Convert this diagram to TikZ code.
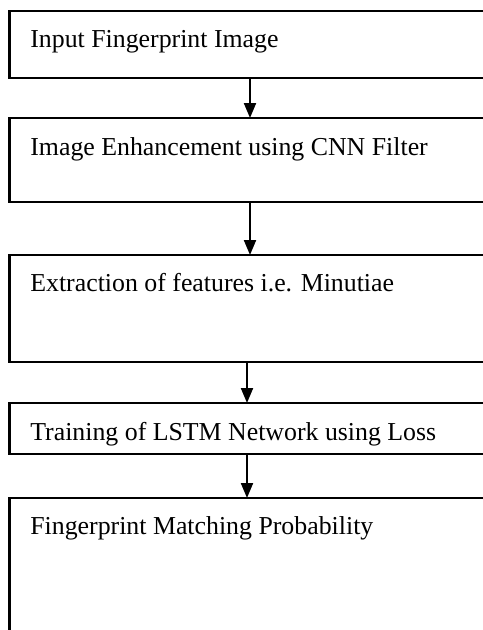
\documentclass[tikz,border=0pt]{standalone}
\usepackage{fontspec}
\setmainfont{Liberation Serif}
\usetikzlibrary{arrows.meta}
\tikzset{
  stage/.style={draw, rectangle, line width=1.2pt, minimum width=9.62cm,
    inner sep=0pt, outer sep=0pt, anchor=north west},
  caption/.style={anchor=base west, inner sep=0pt,
    font=\fontsize{14.7}{18}\selectfont},
  flow/.style={line width=1.2pt, -{Triangle[length=0.3cm,width=0.24cm]}}
}
\begin{document}
\begin{tikzpicture}
            \useasboundingbox (0,0) rectangle (9.66,-12.6);
            \clip (0,0) rectangle (9.66,-12.6);

            % Define the stages
            \node[stage, minimum height=1.34cm] (s1) at (0.19,-0.22) {};
            \node[stage, minimum height=1.68cm] (s2) at (0.19,-2.36) {};
            \node[stage, minimum height=2.14cm] (s3) at (0.19,-5.10) {};
            \node[stage, minimum height=1.02cm] (s4) at (0.19,-8.06) {};
            \node[stage, minimum height=3.50cm] (s5) at (0.19,-9.96) {};

            % Stage texts
            \node[caption] (t1) at (0.6,-0.94) {Input Fingerprint Image};
            \node[caption] (t2) at (0.6,-3.10) {Image Enhancement using CNN Filter};
            \node[caption] (t3) at (0.6,-5.82) {Extraction of features i.e. Minutiae};
            \node[caption] (t4) at (0.6,-8.80) {Training of LSTM Network using Loss};
            \node[caption] (t5) at (0.6,-10.68) {Fingerprint Matching Probability};

            % Draw arrows
            \draw[flow] (s1.south) -- (s2.north);
            \draw[flow] (s2.south) -- (s3.north);
            \draw[flow] ([xshift=-0.06cm]s3.south) -- ([xshift=-0.06cm]s4.north);
            \draw[flow] ([xshift=-0.06cm]s4.south) -- ([xshift=-0.06cm]s5.north);
        \end{tikzpicture}
\end{document}
